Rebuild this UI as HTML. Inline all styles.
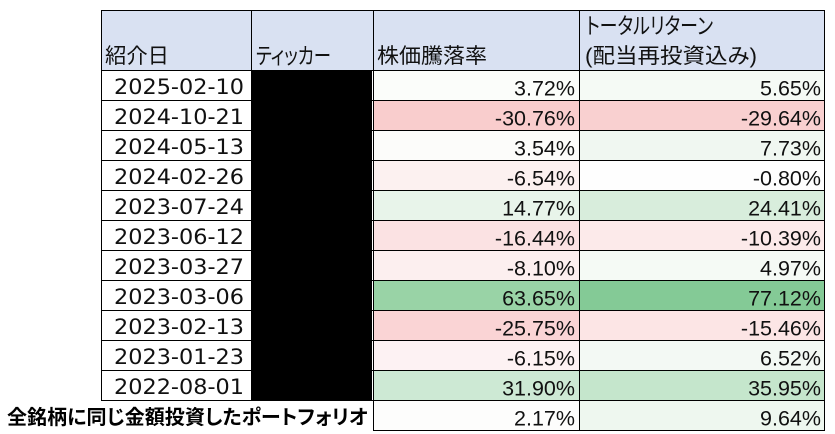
<!DOCTYPE html>
<html><head><meta charset="utf-8"><style>
html,body{margin:0;padding:0;background:#fff;}
svg{display:block;}
.d{font-family:"DejaVu Sans","Liberation Sans",sans-serif;font-size:21.5px;fill:#111;}
.p{font-family:"Liberation Sans","DejaVu Sans",sans-serif;font-size:21.5px;fill:#111;}
.h{font-family:"Liberation Sans","Noto Sans CJK JP",sans-serif;font-size:21px;fill:#111;font-feature-settings:"palt" 1;}
.k{font-family:"Liberation Sans","Noto Sans CJK JP",sans-serif;font-size:22.5px;fill:#111;font-feature-settings:"palt" 1;}
.b{font-family:"Liberation Sans","Noto Sans CJK JP",sans-serif;font-size:20px;font-weight:bold;fill:#000;font-feature-settings:"palt" 1;}
</style></head><body>
<svg width="835" height="434" viewBox="0 0 835 434" xmlns="http://www.w3.org/2000/svg">
<rect x="0" y="0" width="835" height="434" fill="#fff"/>
<!-- header -->
<rect x="101" y="10" width="723" height="60" fill="#D9E1F2"/>
<!-- col3 backgrounds -->
<g>
<rect x="373" y="70" width="206" height="30" fill="#FBFDFA"/>
<rect x="373" y="100" width="206" height="30" fill="#F9CDCD"/>
<rect x="373" y="130" width="206" height="30" fill="#FCFCFA"/>
<rect x="373" y="160" width="206" height="30" fill="#FCF1F0"/>
<rect x="373" y="190" width="206" height="30" fill="#E8F4EA"/>
<rect x="373" y="220" width="206" height="30" fill="#FBE2E3"/>
<rect x="373" y="250" width="206" height="30" fill="#FCEFEF"/>
<rect x="373" y="280" width="206" height="30" fill="#99D3A6"/>
<rect x="373" y="310" width="206" height="30" fill="#FAD4D5"/>
<rect x="373" y="340" width="206" height="30" fill="#FDF2F3"/>
<rect x="373" y="370" width="206" height="30" fill="#CDE9D4"/>
<rect x="373" y="400" width="206" height="30" fill="#FDFDFC"/>
</g>
<!-- col4 backgrounds -->
<g>
<rect x="579" y="70" width="245" height="30" fill="#F5FAF5"/>
<rect x="579" y="100" width="245" height="30" fill="#F9D0D0"/>
<rect x="579" y="130" width="245" height="30" fill="#F0F7F1"/>
<rect x="579" y="160" width="245" height="30" fill="#FEFEFE"/>
<rect x="579" y="190" width="245" height="30" fill="#D8EDDC"/>
<rect x="579" y="220" width="245" height="30" fill="#FCEAEA"/>
<rect x="579" y="250" width="245" height="30" fill="#F5FAF5"/>
<rect x="579" y="280" width="245" height="30" fill="#84CA96"/>
<rect x="579" y="310" width="245" height="30" fill="#FCE5E5"/>
<rect x="579" y="340" width="245" height="30" fill="#F3F9F4"/>
<rect x="579" y="370" width="245" height="30" fill="#C5E6CC"/>
<rect x="579" y="400" width="245" height="30" fill="#EEF7EF"/>
</g>
<!-- black block -->
<rect x="251" y="70" width="121" height="330" fill="#000"/>
<!-- grid lines -->
<g stroke="#000" stroke-width="1" shape-rendering="crispEdges">
<line x1="101" y1="10.5" x2="825" y2="10.5"/>
<line x1="101" y1="70.5" x2="825" y2="70.5"/>
<line x1="101" y1="100.5" x2="825" y2="100.5"/>
<line x1="101" y1="130.5" x2="825" y2="130.5"/>
<line x1="101" y1="160.5" x2="825" y2="160.5"/>
<line x1="101" y1="190.5" x2="825" y2="190.5"/>
<line x1="101" y1="220.5" x2="825" y2="220.5"/>
<line x1="101" y1="250.5" x2="825" y2="250.5"/>
<line x1="101" y1="280.5" x2="825" y2="280.5"/>
<line x1="101" y1="310.5" x2="825" y2="310.5"/>
<line x1="101" y1="340.5" x2="825" y2="340.5"/>
<line x1="101" y1="370.5" x2="825" y2="370.5"/>
<line x1="101" y1="400.5" x2="825" y2="400.5"/>
<line x1="373" y1="430.5" x2="825" y2="430.5"/>
<line x1="101.5" y1="10" x2="101.5" y2="401"/>
<line x1="251.5" y1="10" x2="251.5" y2="401"/>
<line x1="373.5" y1="10" x2="373.5" y2="431"/>
<line x1="579.5" y1="10" x2="579.5" y2="431"/>
<line x1="824.5" y1="10" x2="824.5" y2="431"/>
</g>
<!-- header text -->
<text class="h" x="105" y="63" textLength="64" lengthAdjust="spacingAndGlyphs">紹介日</text>
<text class="k" x="256" y="64" textLength="75" lengthAdjust="spacingAndGlyphs">ティッカー</text>
<text class="h" x="377" y="63" textLength="110" lengthAdjust="spacingAndGlyphs">株価騰落率</text>
<text class="k" x="586" y="34" textLength="127" lengthAdjust="spacingAndGlyphs">トータルリターン</text>
<text class="h" x="585" y="63" textLength="172" lengthAdjust="spacingAndGlyphs">(配当再投資込み)</text>
<!-- dates -->
<g class="d">
<text x="114" y="94" textLength="130" lengthAdjust="spacingAndGlyphs">2025-02-10</text>
<text x="114" y="124" textLength="130" lengthAdjust="spacingAndGlyphs">2024-10-21</text>
<text x="114" y="154" textLength="130" lengthAdjust="spacingAndGlyphs">2024-05-13</text>
<text x="114" y="184" textLength="130" lengthAdjust="spacingAndGlyphs">2024-02-26</text>
<text x="114" y="214" textLength="130" lengthAdjust="spacingAndGlyphs">2023-07-24</text>
<text x="114" y="244" textLength="130" lengthAdjust="spacingAndGlyphs">2023-06-12</text>
<text x="114" y="274" textLength="130" lengthAdjust="spacingAndGlyphs">2023-03-27</text>
<text x="114" y="304" textLength="130" lengthAdjust="spacingAndGlyphs">2023-03-06</text>
<text x="114" y="334" textLength="130" lengthAdjust="spacingAndGlyphs">2023-02-13</text>
<text x="114" y="364" textLength="130" lengthAdjust="spacingAndGlyphs">2023-01-23</text>
<text x="114" y="394" textLength="130" lengthAdjust="spacingAndGlyphs">2022-08-01</text>
</g>
<!-- col3 values -->
<g class="p" text-anchor="end">
<text x="575" y="95.5">3.72%</text>
<text x="575" y="125.5">-30.76%</text>
<text x="575" y="155.5">3.54%</text>
<text x="575" y="185.5">-6.54%</text>
<text x="575" y="215.5">14.77%</text>
<text x="575" y="245.5">-16.44%</text>
<text x="575" y="275.5">-8.10%</text>
<text x="575" y="305.5">63.65%</text>
<text x="575" y="335.5">-25.75%</text>
<text x="575" y="365.5">-6.15%</text>
<text x="575" y="395.5">31.90%</text>
<text x="575" y="425.5">2.17%</text>
</g>
<!-- col4 values -->
<g class="p" text-anchor="end">
<text x="821" y="95.5">5.65%</text>
<text x="821" y="125.5">-29.64%</text>
<text x="821" y="155.5">7.73%</text>
<text x="821" y="185.5">-0.80%</text>
<text x="821" y="215.5">24.41%</text>
<text x="821" y="245.5">-10.39%</text>
<text x="821" y="275.5">4.97%</text>
<text x="821" y="305.5">77.12%</text>
<text x="821" y="335.5">-15.46%</text>
<text x="821" y="365.5">6.52%</text>
<text x="821" y="395.5">35.95%</text>
<text x="821" y="425.5">9.64%</text>
</g>
<!-- bottom label -->
<text class="b" x="7" y="424" textLength="361" lengthAdjust="spacingAndGlyphs">全銘柄に同じ金額投資したポートフォリオ</text>
</svg>
</body></html>
